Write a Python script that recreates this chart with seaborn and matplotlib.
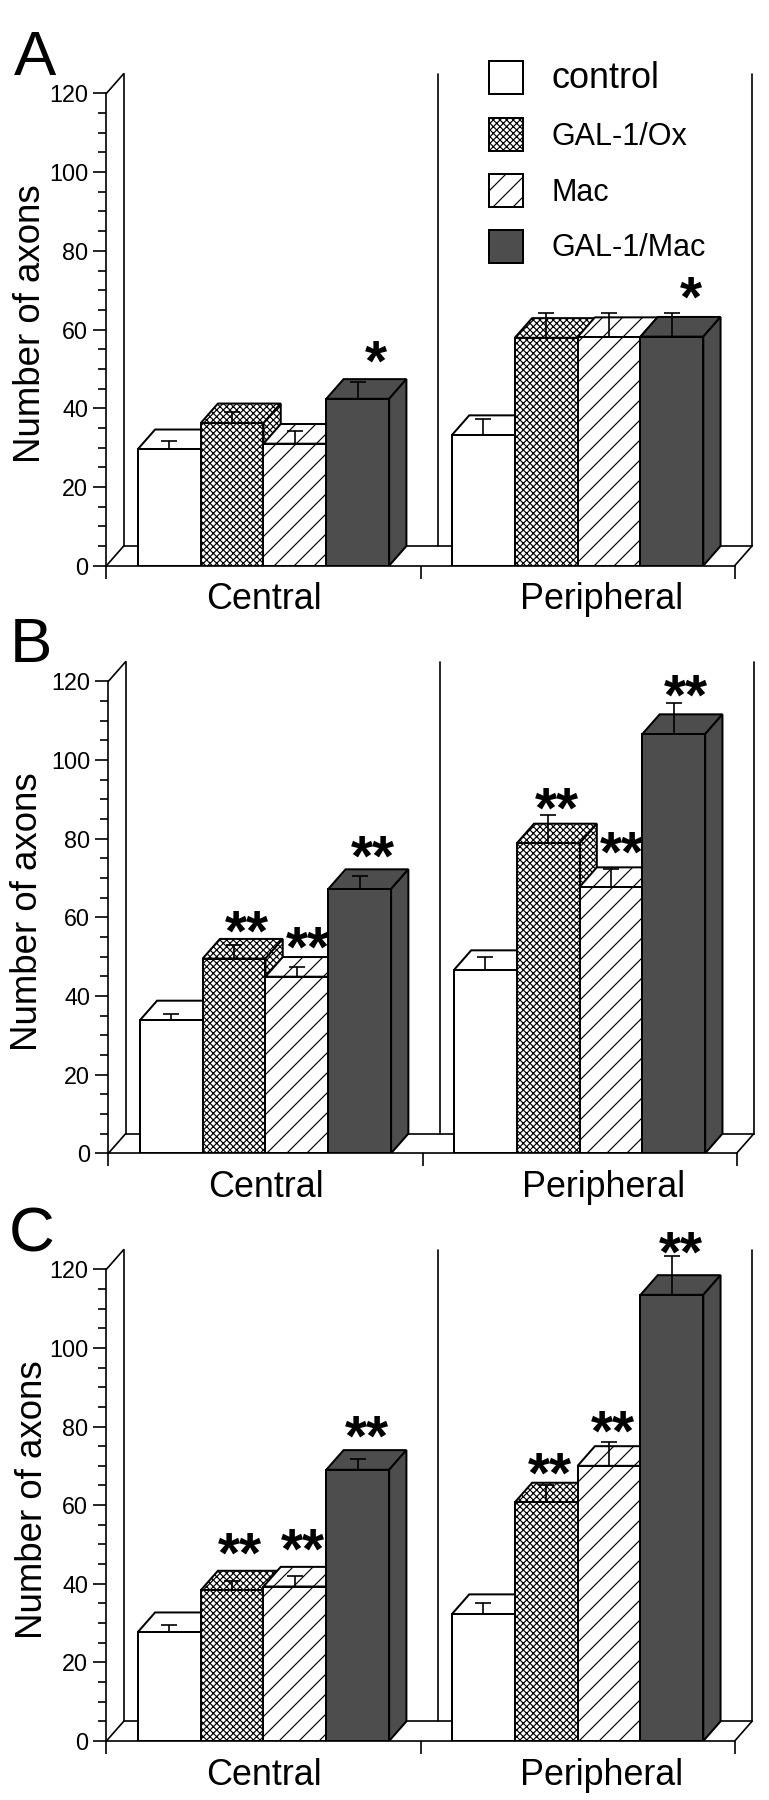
import pandas as pd
import matplotlib.pyplot as plt
import seaborn as sns
from matplotlib.patches import Patch, Polygon

# -----------------------------
# DATA
# -----------------------------
regions = ["Central", "Peripheral"]
groups = ["control", "GAL-1/Ox", "Mac", "GAL-1/Mac"]

# order of every list: Central x 4 groups, then Peripheral x 4 groups
a_values = [29.6, 36.2, 31.0, 42.4, 33.2, 57.9, 58.1, 58.2]
a_err_top = [31.6, 39.0, 34.3, 46.7, 37.2, 64.3, 64.3, 64.3]
b_values = [33.8, 49.5, 44.9, 67.2, 46.6, 78.8, 67.7, 106.6]
b_err_top = [35.5, 52.9, 47.3, 70.6, 50.0, 86.1, 72.4, 114.4]
c_values = [27.7, 38.3, 39.3, 69.0, 32.3, 60.7, 70.0, 113.5]
c_err_top = [29.5, 40.7, 42.1, 71.7, 35.0, 65.1, 76.1, 123.3]

a_stars = ["*", "*"]
a_star_x = [0.359, 1.36]
a_star_y = [53.3, 69.6]
b_stars = ["**"] * 6
b_star_x = [-0.06, 0.135, 0.342, 0.927, 1.135, 1.338]
b_star_y = [57.8, 53.8, 76.9, 89.0, 77.8, 117.7]
c_stars = ["**"] * 6
c_star_x = [-0.074, 0.126, 0.329, 0.913, 1.113, 1.328]
c_star_y = [49.0, 50.2, 78.9, 69.5, 80.2, 125.7]

# -----------------------------
# STYLE
# -----------------------------
W, H, DPI = 769, 1800, 120
DX, DY = 0.055, 5.0  # depth of the fake 3D, in data units
DARK = "#4d4d4d"
colors = dict(zip(groups, ["white", "white", "white", DARK]))
hatches = dict(zip(groups, ["", "xxxxxx", "//", ""]))

sns.set_style("white")
plt.rcParams["font.family"] = ["Liberation Sans", "DejaVu Sans"]
plt.rcParams["hatch.linewidth"] = 0.7
plt.rcParams["axes.linewidth"] = 1.0
plt.rcParams["text.color"] = "black"
plt.rcParams["axes.labelcolor"] = "black"
plt.rcParams["axes.edgecolor"] = "black"
plt.rcParams["xtick.color"] = "black"
plt.rcParams["ytick.color"] = "black"


def draw_panel(fig, rect, letter, letter_pos, ylabel_pos, values, err_top, stars, star_x, star_y):
    left, right, y0, y120 = rect
    ax = fig.add_axes([left / W, 1 - y0 / H, (right - left) / W, (y0 - y120) / H])
    ax.patch.set_alpha(0)

    df = pd.DataFrame({
        "region": [r for r in regions for g in groups],
        "group": groups * 2,
        "axons": values,
    })
    sns.barplot(data=df, x="region", y="axons", hue="group", order=regions, hue_order=groups,
                palette=colors, saturation=1, width=0.8, gap=0, errorbar=None, legend=False,
                edgecolor="black", linewidth=1.2, ax=ax)

    ax.set_xlim(-0.5, 1.5)
    ax.set_ylim(0, 120)

    # back walls and floor
    wall = dict(color="black", lw=1.0, clip_on=False, zorder=1)
    for x in [-0.5, 0.5, 1.5]:
        ax.plot([x + DX, x + DX], [DY, 120 + DY], **wall)
    ax.plot([-0.5, -0.5 + DX], [120, 120 + DY], **wall)
    ax.plot([-0.5, -0.5 + DX], [0, DY], **wall)
    ax.plot([1.5, 1.5 + DX], [0, DY], **wall)
    ax.plot([-0.5 + DX, 1.5 + DX], [DY, DY], **wall)

    # bars painted left to right, each one over the side of the one before
    bars = sorted(ax.patches, key=lambda p: p.get_x())
    hatch_list = [hatches[g] for g in groups] * 2
    for i, bar in enumerate(bars):
        x, w, h = bar.get_x(), bar.get_width(), bar.get_height()
        z = 3 + i
        face = bar.get_facecolor()
        top = Polygon([(x, h), (x + DX, h + DY), (x + w + DX, h + DY), (x + w, h)],
                      facecolor=face, edgecolor="black", lw=1.2, hatch=hatch_list[i], zorder=z)
        side = Polygon([(x + w, 0), (x + w + DX, DY), (x + w + DX, h + DY), (x + w, h)],
                       facecolor=face, edgecolor="black", lw=1.2, hatch=hatch_list[i], zorder=z)
        ax.add_patch(top)
        ax.add_patch(side)
        bar.set_hatch(hatch_list[i])
        bar.set_zorder(z + 0.1)
        ax.errorbar(x + w / 2, h, yerr=[[0], [err_top[i] - h]], color="black", elinewidth=1.0,
                    capsize=5.0, capthick=1.0, zorder=z + 0.2, clip_on=False)

    for s, x, y in zip(stars, star_x, star_y):
        ax.annotate(s, (x, y), xytext=(0, -5.7), textcoords="offset points", ha="center", va="center",
                    fontsize=34, fontweight="bold", zorder=30, annotation_clip=False)

    # axes
    sns.despine(ax=ax)
    ax.set_yticks(range(0, 121, 20))
    ax.set_yticks(range(0, 121, 5), minor=True)
    ax.set_xticks([-0.5, 0.5, 1.5], labels=["", "", ""])
    # the Peripheral label sits right of its group's centre in the original
    ax.set_xticks([0, 1.075], labels=regions, minor=True)
    ax.tick_params(axis="y", which="major", left=True, length=8, width=1.0, labelsize=14, pad=3)
    ax.tick_params(axis="y", which="minor", left=True, length=5, width=1.0)
    ax.tick_params(axis="x", which="major", bottom=True, length=8, width=1.0)
    ax.tick_params(axis="x", which="minor", bottom=False, length=0, labelsize=21.5, pad=10)
    ax.set_xlabel("")
    ax.set_ylabel("Number of axons", fontsize=22)
    ax.yaxis.set_label_coords((ylabel_pos[0] - left) / (right - left), (y0 - ylabel_pos[1]) / (y0 - y120))

    fig.text(letter_pos[0] / W, 1 - letter_pos[1] / H, letter, fontsize=38, ha="left", va="baseline")
    return ax


# -----------------------------
# FIGURE
# -----------------------------
fig = plt.figure(figsize=(W / DPI, H / DPI), dpi=DPI)

ax_a = draw_panel(fig, (106.4, 734.7, 565.7, 93.4), "A", (14, 75), (48, 324),
                  a_values, a_err_top, a_stars, a_star_x, a_star_y)
draw_panel(fig, (108.4, 736.6, 1153.3, 681.3), "B", (10, 662), (45, 912),
           b_values, b_err_top, b_stars, b_star_x, b_star_y)
draw_panel(fig, (106.4, 734.7, 1741.0, 1269.3), "C", (9, 1252), (50, 1500),
           c_values, c_err_top, c_stars, c_star_x, c_star_y)

# legend of panel A
handles = [Patch(facecolor=colors[g], edgecolor="black", hatch=hatches[g], lw=1.2, label=g) for g in groups]
leg = ax_a.legend(handles=handles, loc="upper left", bbox_to_anchor=(489 / W, 1 - 61 / H),
                  bbox_transform=fig.transFigure, frameon=False, fontsize=18.3, borderpad=0,
                  borderaxespad=0, handlelength=1.11, handleheight=1.3, labelspacing=0.72,
                  handletextpad=0.95)
leg.set_zorder(40)
leg.get_texts()[0].set_fontsize(21.6)

plt.savefig("out.png", dpi=DPI)
